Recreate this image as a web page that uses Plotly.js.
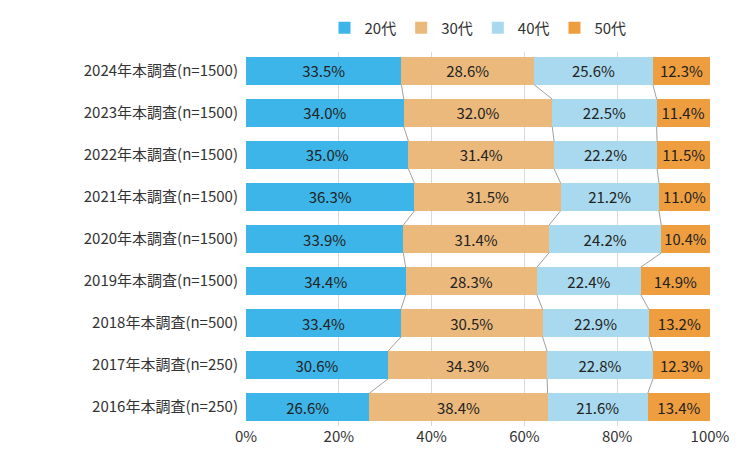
<!DOCTYPE html>
<html><head><meta charset="utf-8">
<script src="https://cdn.plot.ly/plotly-3.0.1.min.js"></script>
<style>html,body{margin:0;padding:0;background:#fff}#chart{width:752px;height:466px}</style>
</head><body><div id="chart"></div>
<script>
// top to bottom in the picture is 2024 .. 2016; plotted bottom-up
const categories = ['2016年本調査(n=250)', '2017年本調査(n=250)', '2018年本調査(n=500)',
  '2019年本調査(n=1500)', '2020年本調査(n=1500)', '2021年本調査(n=1500)',
  '2022年本調査(n=1500)', '2023年本調査(n=1500)', '2024年本調査(n=1500)'];
const seriesNames = ['20代', '30代', '40代', '50代'];
const age20 = [26.6, 30.6, 33.4, 34.4, 33.9, 36.3, 35.0, 34.0, 33.5];
const age30 = [38.4, 34.3, 30.5, 28.3, 31.4, 31.5, 31.4, 32.0, 28.6];
const age40 = [21.6, 22.8, 22.9, 22.4, 24.2, 21.2, 22.2, 22.5, 25.6];
const age50 = [13.4, 12.3, 13.2, 14.9, 10.4, 11.0, 11.5, 11.4, 12.3];
const xTicks = [0, 20, 40, 60, 80, 100];
const colors = ['#3db5e8', '#ebb97c', '#a9d9ee', '#ee9d3f'];

const series = [age20, age30, age40, age50];
const idx = categories.map((c, i) => i);
const barW = 0.66;

const traces = series.map((vals, s) => ({
  type: 'bar', orientation: 'h', name: seriesNames[s],
  y: idx, x: vals, width: barW,
  marker: {color: colors[s]},
  text: vals.map(v => v.toFixed(1) + '%'),
  textposition: 'inside', insidetextanchor: 'middle',
  textfont: {color: '#222', size: 15},
  hoverinfo: 'x+name'
}));

// series connector lines between cumulative boundaries
const lineX = [], lineY = [];
for (let s = 0; s < 3; s++) {
  const cum = idx.map(i => series.slice(0, s + 1).reduce((a, arr) => a + arr[i], 0));
  for (let i = 0; i < idx.length - 1; i++) {
    lineX.push(cum[i], cum[i + 1], null);
    lineY.push(i + barW / 2, i + 1 - barW / 2, null);
  }
}
traces.push({type: 'scatter', mode: 'lines', x: lineX, y: lineY,
  line: {color: '#a0a0a0', width: 1}, showlegend: false, hoverinfo: 'skip'});

const layout = {
  width: 752, height: 466,
  margin: {l: 246, r: 42, t: 40, b: 40},
  barmode: 'stack',
  font: {family: 'Noto Sans CJK JP, sans-serif', color: '#333', size: 15},
  paper_bgcolor: '#fff', plot_bgcolor: '#fff',
  xaxis: {range: [0, 100], tickvals: xTicks, ticktext: xTicks.map(v => v + '%'),
    showgrid: true, gridcolor: '#d9d9d9', zeroline: false, fixedrange: true,
    tickfont: {size: 15, color: '#333'}},
  yaxis: {tickvals: idx, ticktext: categories, range: [-0.45, 8.45],
    showgrid: false, zeroline: false, ticks: 'outside', ticklen: 4, tickcolor: '#fff',
    tickfont: {size: 15, color: '#333'}},
  legend: {orientation: 'h', x: 0.5, xanchor: 'center', y: 1.02, yanchor: 'bottom',
    font: {size: 15}, traceorder: 'normal', itemwidth: 30},
  showlegend: true
};
Plotly.newPlot('chart', traces, layout, {displayModeBar: false});
</script></body></html>
